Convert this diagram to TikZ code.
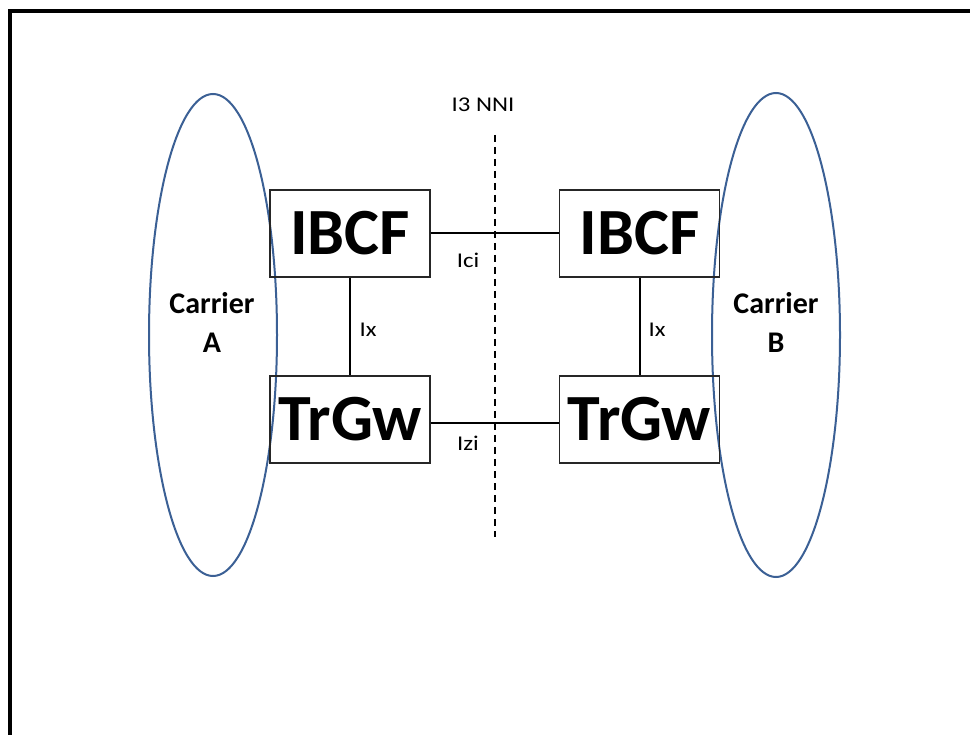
\documentclass[tikz,border=0pt]{standalone}
\usepackage{fontspec}
\setmainfont{Carlito}
\newfontfamily\widefont[FakeStretch=1.18]{Carlito}
\definecolor{ellblue}{HTML}{3B6095}
\begin{document}
\begin{tikzpicture}[x=1pt,y=-1pt,
  box/.style={draw=black!85,line width=1.1pt,minimum width=160pt,minimum height=87pt,inner sep=0pt,font=\fontsize{66}{66}\selectfont\bfseries},
  conn/.style={line width=2pt},
  lbl/.style={font=\widefont\fontsize{21}{21}\selectfont,inner sep=0pt},
  ctext/.style={font=\fontsize{30}{39}\selectfont\bfseries,align=center,inner sep=0pt}]
\useasboundingbox (0,0) rectangle (970,735);
\fill[white] (0,0) rectangle (970,735);
% frame
\draw[line width=4pt] (10,735) -- (10,11) -- (970,11);
% ellipses
\draw[ellblue,line width=2pt] (213,335) ellipse [x radius=64pt, y radius=241pt];
\draw[ellblue,line width=2pt] (776,335) ellipse [x radius=64pt, y radius=242pt];
\node[ctext] (ca) at (212,322) {Carrier\\A};
\node[ctext] (cb) at (776,322) {Carrier\\B};
% boxes
\node[box] (ibcfA) at (350,233.5) {IBCF};
\node[box] (ibcfB) at (639.5,233.5) {IBCF};
\node[box] (trgwA) at (350,419.5) {TrGw};
\node[box] (trgwB) at (639.5,419.5) {TrGw};
% dashed NNI
\coordinate (nniT) at (495,135);
\coordinate (nniB) at (495,537);
\draw[line width=1.5pt,dash pattern=on 7pt off 5pt] (nniT) -- (nniB);
\node[lbl] (nni) at (483,105) {I3 NNI};
% connectors
\draw[conn] (ibcfA.east) -- (ibcfB.west);
\draw[conn] (trgwA.east|-0,423) -- (trgwB.west|-0,423);
\draw[conn] (ibcfA.south) -- (trgwA.north);
\draw[conn] (ibcfB.south) -- (trgwB.north);
\node[lbl] (ici) at (468,260) {Ici};
\node[lbl] (izi) at (468,443) {Izi};
\node[lbl] (ixA) at (368,330) {Ix};
\node[lbl] (ixB) at (657,330) {Ix};
\end{tikzpicture}
\end{document}
